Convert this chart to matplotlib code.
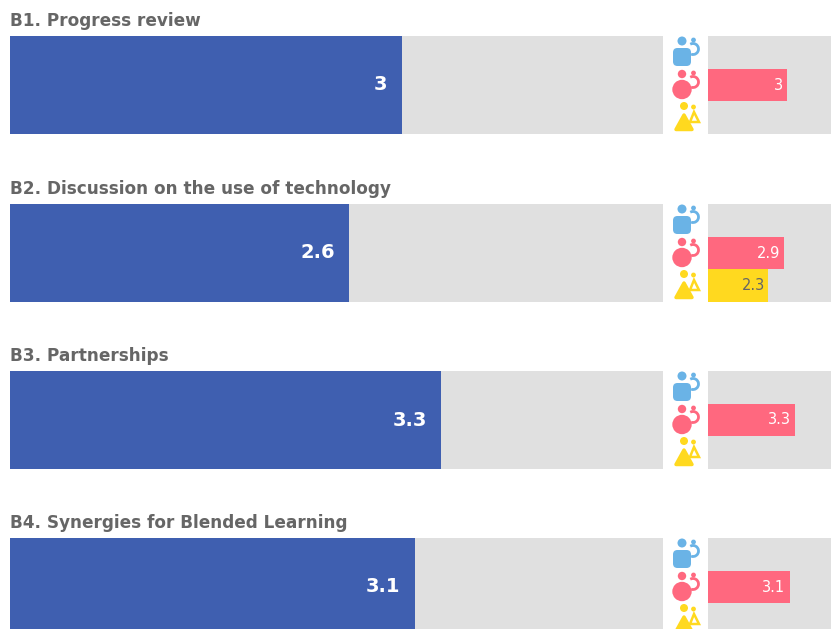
import matplotlib
matplotlib.use("Agg")
import matplotlib.pyplot as plt
from matplotlib.patches import Circle, FancyBboxPatch, Polygon, Arc

W, H = 831, 629
titles = ["B1. Progress review", "B2. Discussion on the use of technology",
          "B3. Partnerships", "B4. Synergies for Blended Learning"]
overall = [3, 2.6, 3.3, 3.1]
overall_labels = ["3", "2.6", "3.3", "3.1"]
women = [3, 2.9, 3.3, 3.1]
women_labels = ["3", "2.9", "3.3", "3.1"]
mixed = [None, 2.3, None, None]
mixed_labels = ["", "2.3", "", ""]
panel_tops = [36, 204, 371, 538]
PANEL_H = 98
XMAX = 5

BLUE, GRAY, RED, YEL, SKY, TXT = "#3F5FB0", "#E0E0E0", "#FF687F", "#FFD91F", "#6AB3E6", "#666666"
FONT = "DejaVu Sans"

fig = plt.figure(figsize=(W / 100, H / 100), dpi=100, facecolor="white")

def make_axes(x0, x1, top, h):
    ax = fig.add_axes([x0 / W, 1 - (top + h) / H, (x1 - x0) / W, h / H])
    ax.set_xlim(0, XMAX)
    ax.axis("off")
    return ax

for i, top in enumerate(panel_tops):
    ax = make_axes(9.5, 663, top, PANEL_H)
    ax.set_ylim(0, 1)
    ax.barh(0.5, XMAX, height=1, color=GRAY)
    ax.barh(0.5, overall[i], height=1, color=BLUE)
    ax.annotate(overall_labels[i], (overall[i], 0.5), xytext=(-14, 0), textcoords="offset pixels",
                ha="right", va="center", color="white", fontsize=14, fontweight="bold", family=FONT)

    sm = make_axes(708, 708 + 131.5, top, PANEL_H)
    sm.set_ylim(3, 0)
    sm.barh([0.5, 1.5, 2.5], [XMAX] * 3, height=1, color=GRAY)
    sm.barh(1.5, women[i], height=1, color=RED)
    sm.annotate(women_labels[i], (women[i], 1.5), xytext=(-4, 0), textcoords="offset pixels",
                ha="right", va="center", color="white", fontsize=10.5, family=FONT)
    if mixed[i] is not None:
        sm.barh(2.5, mixed[i], height=1, color=YEL)
        sm.annotate(mixed_labels[i], (mixed[i], 2.5), xytext=(-3, 0), textcoords="offset pixels",
                    ha="right", va="center", color=TXT, fontsize=10.5, family=FONT)

    fig.text(10.5 / W, 1 - (top - 15) / H, titles[i], ha="left", va="center",
             color=TXT, fontsize=12.2, fontweight="bold", family=FONT)

# overlay in pixel units for the small person icons
ov = fig.add_axes([0, 0, 1, 1], zorder=5)
ov.set_xlim(0, W)
ov.set_ylim(H, 0)
ov.axis("off")

def small_figure(top, c, triangle=False):
    ov.add_patch(Circle((693.5, top), 2.4, color=c, lw=0))
    if triangle:
        ov.add_patch(Polygon([(694, top + 5), (690, top + 15), (699, top + 15)],
                             closed=True, fill=False, ec=c, lw=1.8))
    else:
        ov.add_patch(Arc((693, top + 9), 11, 11, theta1=-120, theta2=110, color=c, lw=2))

for top in panel_tops:
    # blue: head + rounded square
    ov.add_patch(Circle((682, top + 5), 4.5, color=SKY, lw=0))
    ov.add_patch(FancyBboxPatch((677.5, top + 16.5), 9, 9, boxstyle="round,pad=4.5", fc=SKY, ec="none"))
    small_figure(top + 4, SKY)
    # red: head + round body
    ov.add_patch(Circle((682, top + 38), 4.2, color=RED, lw=0))
    ov.add_patch(Circle((682, top + 53.5), 9.7, color=RED, lw=0))
    small_figure(top + 37, RED)
    # yellow: head + triangle
    ov.add_patch(Circle((684, top + 70), 4, color=YEL, lw=0))
    ov.add_patch(Polygon([(684, top + 79), (676, top + 93.5), (692, top + 93.5)], closed=True,
                         fc=YEL, ec=YEL, lw=2.5, joinstyle="round"))
    small_figure(top + 71, YEL, triangle=True)

fig.savefig("out.png", dpi=100)
